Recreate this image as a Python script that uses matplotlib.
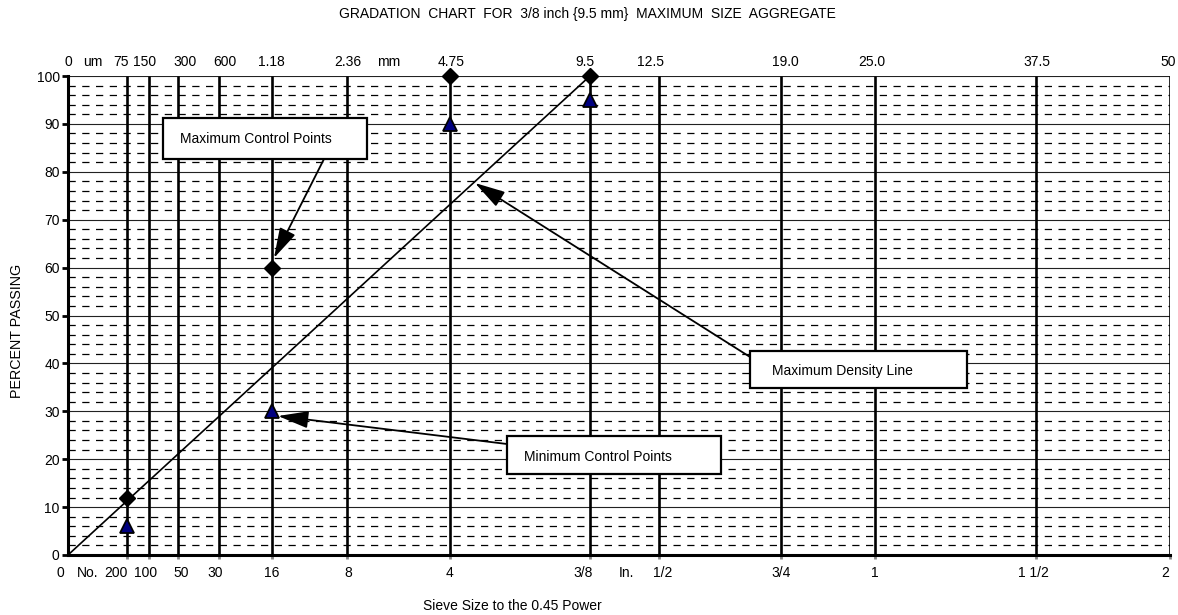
# Gradation chart, 9.5 mm maximum size aggregate, x axis is sieve size ^ 0.45

import matplotlib
matplotlib.use('Agg')
import matplotlib.pyplot as plt
from matplotlib.patches import Rectangle

plt.rcParams['font.family'] = ['Liberation Sans', 'DejaVu Sans']

POWER = 0.45

# Sieve openings (mm) with their metric and US labels
sieve_mm = [0.075, 0.15, 0.3, 0.6, 1.18, 2.36, 4.75, 9.5, 12.5, 19.0, 25.0, 37.5, 50.0]
mm_labels = ['75', '150', '300', '600', '1.18', '2.36', '4.75', '9.5',
             '12.5', '19.0', '25.0', '37.5', '50']
us_labels = ['200', '100', '50', '30', '16', '8', '4', '3/8',
             '1/2', '3/4', '1', '1 1/2', '2']

# Control points (sieve mm, percent passing)
max_ctrl_mm = [0.075, 1.18, 4.75, 9.5]
max_ctrl_pct = [12, 60, 100, 100]
min_ctrl_mm = [0.075, 1.18, 4.75, 9.5]
min_ctrl_pct = [6, 30, 90, 95]

# Maximum density line end points
mdl_mm = [0.0, 9.5]
mdl_pct = [0, 100]

# label nudges in pixels (label centre vs sieve line)
top_nudge = [-6, -4, 7, 6, -1, 1, 1, -5, -8, 4, -3, 1, -2]
bot_nudge = [-11, -3, 3, -3, 0, 1, -1, -7, 4, 0, 0, -3, -5]


def p(v):
    return v ** POWER


fig = plt.figure(figsize=(11.78, 6.15), dpi=100)
ax = fig.add_axes([68 / 1178, 60 / 615, 1102 / 1178, 479 / 615])

ax.set_xlim(0, p(50.0))
ax.set_ylim(0, 100)

# horizontal grid: solid every 10, dashed every 2
for y in range(2, 101, 2):
    if y % 10 == 0:
        ax.axhline(y, color='#222222', lw=0.8, zorder=1)
    else:
        ax.axhline(y, color='black', lw=0.9, ls=(0, (5.8, 5.2)), zorder=1)

# vertical sieve lines
ax.vlines([p(s) for s in sieve_mm], 0, 100, color='black', lw=1.9, zorder=2)

# maximum density line
ax.plot([p(s) for s in mdl_mm], mdl_pct, color='black', lw=1.2, zorder=3)

# control points
ax.plot([p(s) for s in max_ctrl_mm], max_ctrl_pct, ls='none', marker='D',
        ms=8.5, color='black', zorder=5, clip_on=False)
ax.plot([p(s) for s in min_ctrl_mm], min_ctrl_pct, ls='none', marker='^',
        ms=10, mfc='#000080', mec='black', mew=1.3, zorder=5, clip_on=False)

# axes styling
for side in ['top', 'right']:
    ax.spines[side].set_visible(False)
ax.spines['left'].set_linewidth(2.2)
ax.spines['bottom'].set_linewidth(2.2)
ax.set_yticks(range(0, 101, 10))
ax.tick_params(axis='y', length=4, width=2, labelsize=10, pad=2)
ax.set_xticks([p(s) for s in sieve_mm])
ax.set_xticklabels([])
ax.tick_params(axis='x', length=3, width=2, color='#888888')

px = 72 / 100  # points per pixel

# top labels (mm)
ax.annotate('0', xy=(0, 1), xycoords=('data', 'axes fraction'), xytext=(0, 10),
            textcoords='offset points', ha='center', va='center', fontsize=10)
ax.annotate('um', xy=(0, 1), xycoords=('data', 'axes fraction'), xytext=(25 * px, 10),
            textcoords='offset points', ha='center', va='center', fontsize=10)
ax.annotate('mm', xy=(p(2.36), 1), xycoords=('data', 'axes fraction'), xytext=(42 * px, 10),
            textcoords='offset points', ha='center', va='center', fontsize=10)
for s, lab, dx in zip(sieve_mm, mm_labels, top_nudge):
    ax.annotate(lab, xy=(p(s), 1), xycoords=('data', 'axes fraction'),
                xytext=(dx * px, 10), textcoords='offset points',
                ha='center', va='center', fontsize=10)

# bottom labels (US sieve numbers / inches)
ax.annotate('0', xy=(0, 0), xycoords=('data', 'axes fraction'), xytext=(-8 * px, -13),
            textcoords='offset points', ha='center', va='center', fontsize=10)
ax.annotate('No.', xy=(0, 0), xycoords=('data', 'axes fraction'), xytext=(20 * px, -13),
            textcoords='offset points', ha='center', va='center', fontsize=10)
ax.annotate('In.', xy=(p(9.5), 0), xycoords=('data', 'axes fraction'), xytext=(36 * px, -13),
            textcoords='offset points', ha='center', va='center', fontsize=10)
for s, lab, dx in zip(sieve_mm, us_labels, bot_nudge):
    ax.annotate(lab, xy=(p(s), 0), xycoords=('data', 'axes fraction'),
                xytext=(dx * px, -13), textcoords='offset points',
                ha='center', va='center', fontsize=10)

fig.text(587 / 1178, 1 - 14 / 615,
         'GRADATION  CHART  FOR  3/8 inch {9.5 mm}  MAXIMUM  SIZE  AGGREGATE',
         ha='center', va='center', fontsize=10)
fig.text(512 / 1178, 1 - 606 / 615, 'Sieve Size to the 0.45 Power',
         ha='center', va='center', fontsize=10)
fig.text(17 / 1178, 1 - 331 / 615, 'PERCENT PASSING', rotation=90,
         ha='center', va='center', fontsize=10.3)


# callout boxes with arrows (axes fraction)
def callout(text, box, text_xy, start, tip):
    x0, y0, x1, y1 = box
    ax.add_patch(Rectangle((x0, y0), x1 - x0, y1 - y0, transform=ax.transAxes,
                           facecolor='white', edgecolor='black', lw=1.6,
                           zorder=7, clip_on=False))
    ax.text(text_xy[0], text_xy[1], text, transform=ax.transAxes,
            ha='left', va='center', fontsize=10, zorder=8)
    ax.annotate('', xy=tip, xycoords='axes fraction', xytext=start,
                textcoords='axes fraction',
                arrowprops=dict(arrowstyle='-|>,head_length=0.85,head_width=0.24',
                                color='black', lw=1.3,
                                mutation_scale=22, shrinkA=0, shrinkB=0),
                zorder=6)


callout('Maximum Control Points', (0.0862, 0.8267, 0.2713, 0.9123),
        (0.1016, 0.8685), (0.2323, 0.8267), (0.1869, 0.6200))
callout('Minimum Control Points', (0.3984, 0.1691, 0.5926, 0.2484),
        (0.4138, 0.2046), (0.3984, 0.2317), (0.1906, 0.2902))
callout('Maximum Density Line', (0.6189, 0.3486, 0.8158, 0.4259),
        (0.6388, 0.3841), (0.6189, 0.4134), (0.3693, 0.7766))

fig.savefig('out.png', dpi=100)
